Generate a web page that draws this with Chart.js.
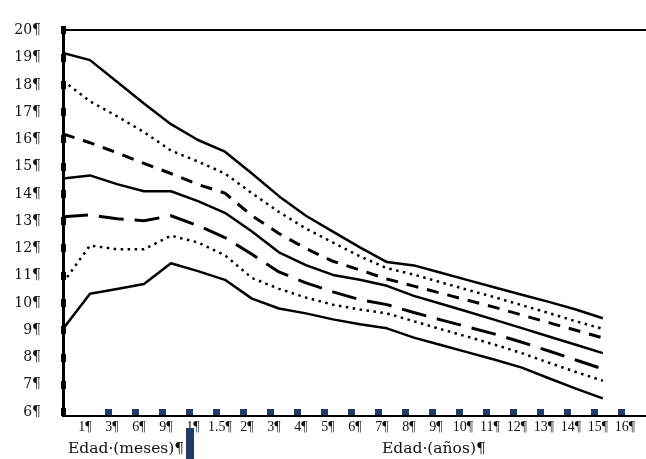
<!DOCTYPE html>
<html>
<head>
<meta charset="utf-8">
<script src="https://cdn.jsdelivr.net/npm/chart.js@4/dist/chart.umd.min.js"></script>
<style>
  html, body { margin: 0; padding: 0; background: #fff; }
  #wrap { position: relative; width: 646px; height: 459px; }
</style>
</head>
<body>
<div id="wrap"><canvas id="c" width="646" height="459"></canvas></div>
<script>
// Age ticks: birth (index 0, unlabelled), months 1..9, then years 1..16
const xTickLabels = ['1', '3', '6', '9', '1', '1.5', '2', '3', '4', '5', '6', '7', '8', '9', '10', '11', '12', '13', '14', '15', '16'];
const yTickValues = [6, 7, 8, 9, 10, 11, 12, 13, 14, 15, 16, 17, 18, 19, 20];

// Percentile curves, one value per age tick from birth to 15 years
const p97 = [19.17, 18.91, 18.12, 17.32, 16.56, 15.98, 15.55, 14.75, 13.92, 13.2, 12.62, 12.04, 11.5, 11.38, 11.11, 10.84, 10.57, 10.3, 10.04, 9.76, 9.44];
const p90 = [18.15, 17.4, 16.85, 16.27, 15.59, 15.19, 14.75, 14.03, 13.34, 12.73, 12.22, 11.71, 11.28, 11.04, 10.76, 10.48, 10.21, 9.92, 9.63, 9.33, 9.05];
const p75 = [16.2, 15.88, 15.51, 15.12, 14.75, 14.35, 14.03, 13.2, 12.55, 12.0, 11.53, 11.21, 10.88, 10.62, 10.36, 10.1, 9.84, 9.56, 9.28, 9.0, 8.72];
const p50 = [14.57, 14.68, 14.36, 14.1, 14.1, 13.74, 13.31, 12.62, 11.86, 11.39, 11.03, 10.85, 10.63, 10.26, 9.97, 9.68, 9.38, 9.08, 8.77, 8.47, 8.16];
const p25 = [13.16, 13.23, 13.09, 13.02, 13.2, 12.84, 12.4, 11.79, 11.14, 10.74, 10.41, 10.12, 9.94, 9.65, 9.38, 9.12, 8.86, 8.56, 8.24, 7.91, 7.58];
const p10 = [10.74, 12.11, 11.97, 11.97, 12.47, 12.22, 11.75, 10.92, 10.52, 10.2, 9.94, 9.76, 9.62, 9.33, 9.04, 8.76, 8.47, 8.16, 7.81, 7.47, 7.15];
const p3  = [9.05, 10.34, 10.51, 10.7, 11.46, 11.17, 10.85, 10.16, 9.8, 9.62, 9.4, 9.22, 9.07, 8.73, 8.46, 8.19, 7.92, 7.63, 7.24, 6.86, 6.5];

const NAVY = '#1f3b66';

const toPoints = arr => arr.map((v, i) => ({ x: i, y: v }));

function curve(values, width, dash) {
  return {
    data: toPoints(values),
    borderColor: '#000',
    borderWidth: width,
    borderDash: dash,
    borderCapStyle: 'butt',
    borderJoinStyle: 'round',
    pointRadius: 0,
    tension: 0,
    fill: false
  };
}

// Axis furniture: tick blocks on the y axis, navy markers on the x axis, titles
const axisDecor = {
  id: 'axisDecor',
  afterDraw(chart) {
    const { ctx, scales: { x, y }, chartArea: a } = chart;
    ctx.save();
    ctx.fillStyle = '#000';
    yTickValues.forEach(v => {
      const py = y.getPixelForValue(v);
      ctx.fillRect(a.left - 2, Math.round(py - 4), 5, 8);
    });
    ctx.fillStyle = NAVY;
    for (let i = 1; i <= 20; i++) {
      const px = x.getPixelForValue(i + 0.68);
      ctx.fillRect(Math.round(px - 3.5), a.bottom - 7, 7, 6);
    }
    ctx.fillStyle = '#111';
    ctx.font = '15.5px "DejaVu Serif"';
    ctx.textBaseline = 'middle';
    ctx.textAlign = 'left';
    ctx.fillText('Edad·(meses)¶', 68, 449);
    ctx.fillText('Edad·(años)¶', 382, 449);
    ctx.fillStyle = NAVY;
    ctx.fillRect(186, 428, 8, 31);
    ctx.restore();
  }
};

new Chart(document.getElementById('c'), {
  type: 'line',
  data: {
    datasets: [
      curve(p97, 2.5, []),
      curve(p90, 2.5, [2.5, 4.5]),
      curve(p75, 3, [12, 9]),
      curve(p50, 2.5, []),
      curve(p25, 3, [25, 11]),
      curve(p10, 2.5, [2.5, 4.5]),
      curve(p3, 2.5, [])
    ]
  },
  options: {
    responsive: false,
    animation: false,
    devicePixelRatio: 1,
    layout: { padding: { top: 25, right: 0, left: 0, bottom: 0 } },
    plugins: { legend: { display: false }, tooltip: { enabled: false } },
    scales: {
      x: {
        type: 'linear',
        min: 0,
        max: 21.6,
        afterFit(s) { s.height = 43; },
        afterBuildTicks(s) { s.ticks = xTickLabels.map((_, i) => ({ value: i + 1 })); },
        grid: { display: false, drawTicks: false },
        border: { display: true, color: '#000', width: 2 },
        ticks: {
          autoSkip: false,
          maxRotation: 0,
          padding: 3,
          labelOffset: -5,
          color: '#111',
          font: { family: 'Liberation Serif', size: 14 },
          callback: (v, i) => xTickLabels[i] + '¶'
        }
      },
      y: {
        min: 5.855,
        max: 20,
        afterFit(s) { s.width = 63; },
        afterBuildTicks(s) { s.ticks = yTickValues.map(v => ({ value: v })); },
        grid: {
          drawTicks: false,
          color: c => (c.tick && c.tick.value === 20 ? '#000' : 'rgba(0,0,0,0)'),
          lineWidth: 2
        },
        border: { display: true, color: '#000', width: 3 },
        ticks: {
          padding: 22,
          color: '#111',
          font: { family: 'DejaVu Serif', size: 14 },
          callback: v => v + '¶'
        }
      }
    }
  },
  plugins: [axisDecor]
});
</script>
</body>
</html>
